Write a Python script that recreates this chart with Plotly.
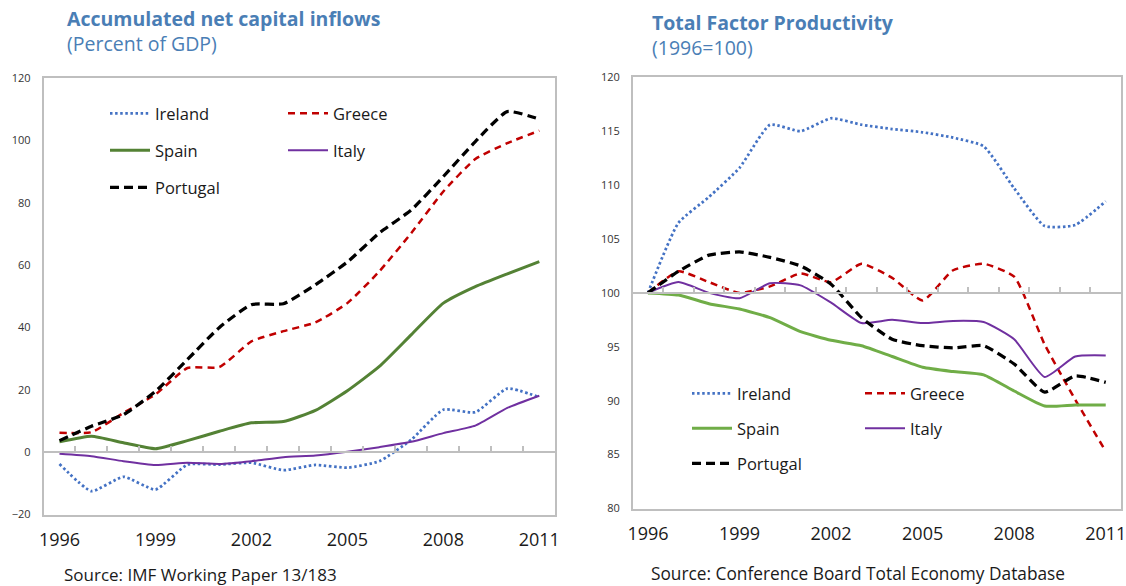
import plotly.graph_objects as go

W, H = 1126, 586

years = list(range(1996, 2012))
label_years = [1996, 1999, 2002, 2005, 2008, 2011]

countries = ['Ireland', 'Greece', 'Spain', 'Italy', 'Portugal']

# accumulated net capital inflows, percent of GDP
cap_ireland = [-3.8, -12.5, -7.9, -12.0, -4.0, -4.0, -3.4, -5.8, -4.1, -5.0, -2.9, 4.0, 13.6, 12.8, 20.4, 17.6]
cap_greece = [6.2, 6.4, 12.6, 18.5, 27.0, 27.3, 35.5, 38.8, 41.6, 47.8, 58.0, 70.3, 83.6, 94.0, 99.1, 103.1]
cap_spain = [3.3, 5.1, 3.0, 1.1, 3.7, 6.7, 9.4, 9.8, 13.4, 19.7, 27.5, 37.7, 47.8, 53.1, 57.2, 61.1]
cap_italy = [-0.5, -1.3, -2.9, -4.1, -3.4, -3.8, -2.9, -1.6, -1.1, 0.1, 1.6, 3.3, 6.1, 8.5, 14.2, 18.1]
cap_portugal = [3.7, 8.3, 12.0, 19.5, 29.7, 40.0, 47.3, 47.6, 53.7, 61.0, 70.3, 77.7, 88.4, 99.6, 109.2, 106.8]

# total factor productivity, 1996=100
tfp_ireland = [100, 106.5, 108.9, 111.6, 115.6, 115.0, 116.2, 115.6, 115.2, 114.9, 114.4, 113.6, 109.7, 106.2, 106.3, 108.5]
tfp_greece = [100, 102.0, 101.0, 100.0, 100.6, 101.8, 101.0, 102.7, 101.4, 99.3, 102.1, 102.7, 101.5, 95.2, 90.1, 85.3]
tfp_spain = [100, 99.8, 99.0, 98.5, 97.7, 96.4, 95.6, 95.1, 94.1, 93.1, 92.7, 92.4, 90.9, 89.5, 89.6, 89.6]
tfp_italy = [100, 101.0, 100.0, 99.5, 100.9, 100.7, 99.1, 97.2, 97.5, 97.2, 97.4, 97.3, 95.7, 92.2, 94.1, 94.2]
tfp_portugal = [100, 102.0, 103.5, 103.8, 103.3, 102.5, 100.8, 97.7, 95.7, 95.1, 94.9, 95.1, 93.4, 90.8, 92.3, 91.7]

FONT = 'Open Sans'
TITLE_BLUE = '#4A7EB5'
AXIS_GREY = '#BFBFBF'


def px(x):
    return x / W


def py(y):
    return 1 - y / H


styles_left = {
    'Ireland': dict(color='#4472C4', width=2.75, dash='2.5px,2.6px'),
    'Greece': dict(color='#C00000', width=2.5, dash='7px,5px'),
    'Spain': dict(color='#548235', width=3),
    'Italy': dict(color='#7030A0', width=2),
    'Portugal': dict(color='#000000', width=3.25, dash='9px,5px'),
}
styles_right = dict(styles_left)
styles_right['Spain'] = dict(color='#70AD47', width=3)

left_dom_x = [px(43.5), px(555.3)]
left_dom_y = [py(514.5), py(78)]
right_dom_x = [px(632.7), px(1121)]
right_dom_y = [py(508.5), py(77.3)]
left_range = [-20, 120]
right_range = [80, 120]
x_range = [1995.5, 2011.5]


def axis_pos(dom, rng, v):
    return dom[0] + (v - rng[0]) / (rng[1] - rng[0]) * (dom[1] - dom[0])


fig = go.Figure()

left_data = [cap_ireland, cap_greece, cap_spain, cap_italy, cap_portugal]
right_data = [tfp_ireland, tfp_greece, tfp_spain, tfp_italy, tfp_portugal]

for name, vals in zip(countries, left_data):
    fig.add_trace(go.Scatter(
        x=years, y=vals, name=name, mode='lines', showlegend=False,
        line=dict(shape='spline', smoothing=0.5, **styles_left[name]),
        xaxis='x3' if name == 'Portugal' else 'x', yaxis='y'))

for name, vals in zip(countries, right_data):
    fig.add_trace(go.Scatter(
        x=years, y=vals, name=name, mode='lines', showlegend=False,
        line=dict(shape='spline', smoothing=0.5, **styles_right[name]),
        xaxis='x4' if name == 'Portugal' else 'x2', yaxis='y2'))

xbase = dict(range=x_range, showgrid=False, zeroline=False, showline=True,
             mirror=True, linecolor=AXIS_GREY, linewidth=1.5, automargin=False,
             tickvals=label_years, ticks='', ticklabelstandoff=8,
             ticklabeloverflow='allow',
             tickfont=dict(family=FONT, size=18, color='#1a1a1a'))
ybase = dict(showgrid=False, zeroline=False, showline=True, mirror=True,
             linecolor=AXIS_GREY, linewidth=1.5, ticks='', automargin=False,
             ticklabelstandoff=9,
             tickfont=dict(family=FONT, size=11, color='#333333'))
# category-boundary ticks along the base line (0 / 100)
xover = dict(range=x_range, showgrid=False, zeroline=False, showline=True,
             linecolor=AXIS_GREY, linewidth=1.5, anchor='free', automargin=False,
             tickvals=[y + 0.5 for y in years[:-1]], ticks='inside',
             ticklen=5, tickcolor=AXIS_GREY, tickwidth=1.5,
             showticklabels=False)

fig.update_layout(
    template='none',
    width=W, height=H,
    margin=dict(l=0, r=0, t=0, b=0, pad=0),
    paper_bgcolor='white', plot_bgcolor='white',
    hovermode=False,
    xaxis=dict(domain=left_dom_x, anchor='y', **xbase),
    yaxis=dict(domain=left_dom_y, anchor='x', range=left_range, dtick=20, **ybase),
    xaxis2=dict(domain=right_dom_x, anchor='y2', **xbase),
    yaxis2=dict(domain=right_dom_y, anchor='x2', range=right_range, dtick=5, **ybase),
    xaxis3=dict(overlaying='x', position=axis_pos(left_dom_y, left_range, 0), **xover),
    xaxis4=dict(overlaying='x2', position=axis_pos(right_dom_y, right_range, 100), **xover),
)

annotations = []
shapes = []


def text(x, y, s, size, color='#1a1a1a'):
    annotations.append(dict(
        xref='paper', yref='paper', x=px(x), y=py(y), text=s,
        showarrow=False, xanchor='left', yanchor='middle', align='left',
        font=dict(family=FONT, size=size, color=color)))


# titles (bold title + subtitle)
text(65, 31.3, '<b>Accumulated net capital inflows</b><br>(Percent of GDP)', 19.5, TITLE_BLUE)
text(650, 34.5, '<b>Total Factor Productivity</b><br>(1996=100)', 19.5, TITLE_BLUE)

# sources
text(62, 574.5, 'Source: IMF Working Paper 13/183', 17)
text(649, 573, 'Source: Conference Board Total Economy Database', 17.3)


def legend(x0, x1, y0, dy, styles):
    pos = {'Ireland': (0, 0), 'Greece': (1, 0), 'Spain': (0, 1), 'Italy': (1, 1), 'Portugal': (0, 2)}
    for name in countries:
        c, r = pos[name]
        lx = x0 if c == 0 else x1
        ly = y0 + r * dy
        st = styles[name]
        shapes.append(dict(type='line', xref='paper', yref='paper',
                           x0=px(lx), x1=px(lx + 40), y0=py(ly), y1=py(ly),
                           line=dict(color=st['color'], width=st['width'],
                                     dash=st.get('dash', 'solid'))))
        text(lx + 43, ly, name, 16.5)


legend(110, 288, 113.3, 37, styles_left)
legend(692, 865, 393.3, 35, styles_right)

fig.update_layout(annotations=annotations, shapes=shapes)

# drop the browser's default body margin so the figure fills the window
fig.write_html('out.html', config={'displayModeBar': False},
               post_script="document.body.style.margin='0';")
